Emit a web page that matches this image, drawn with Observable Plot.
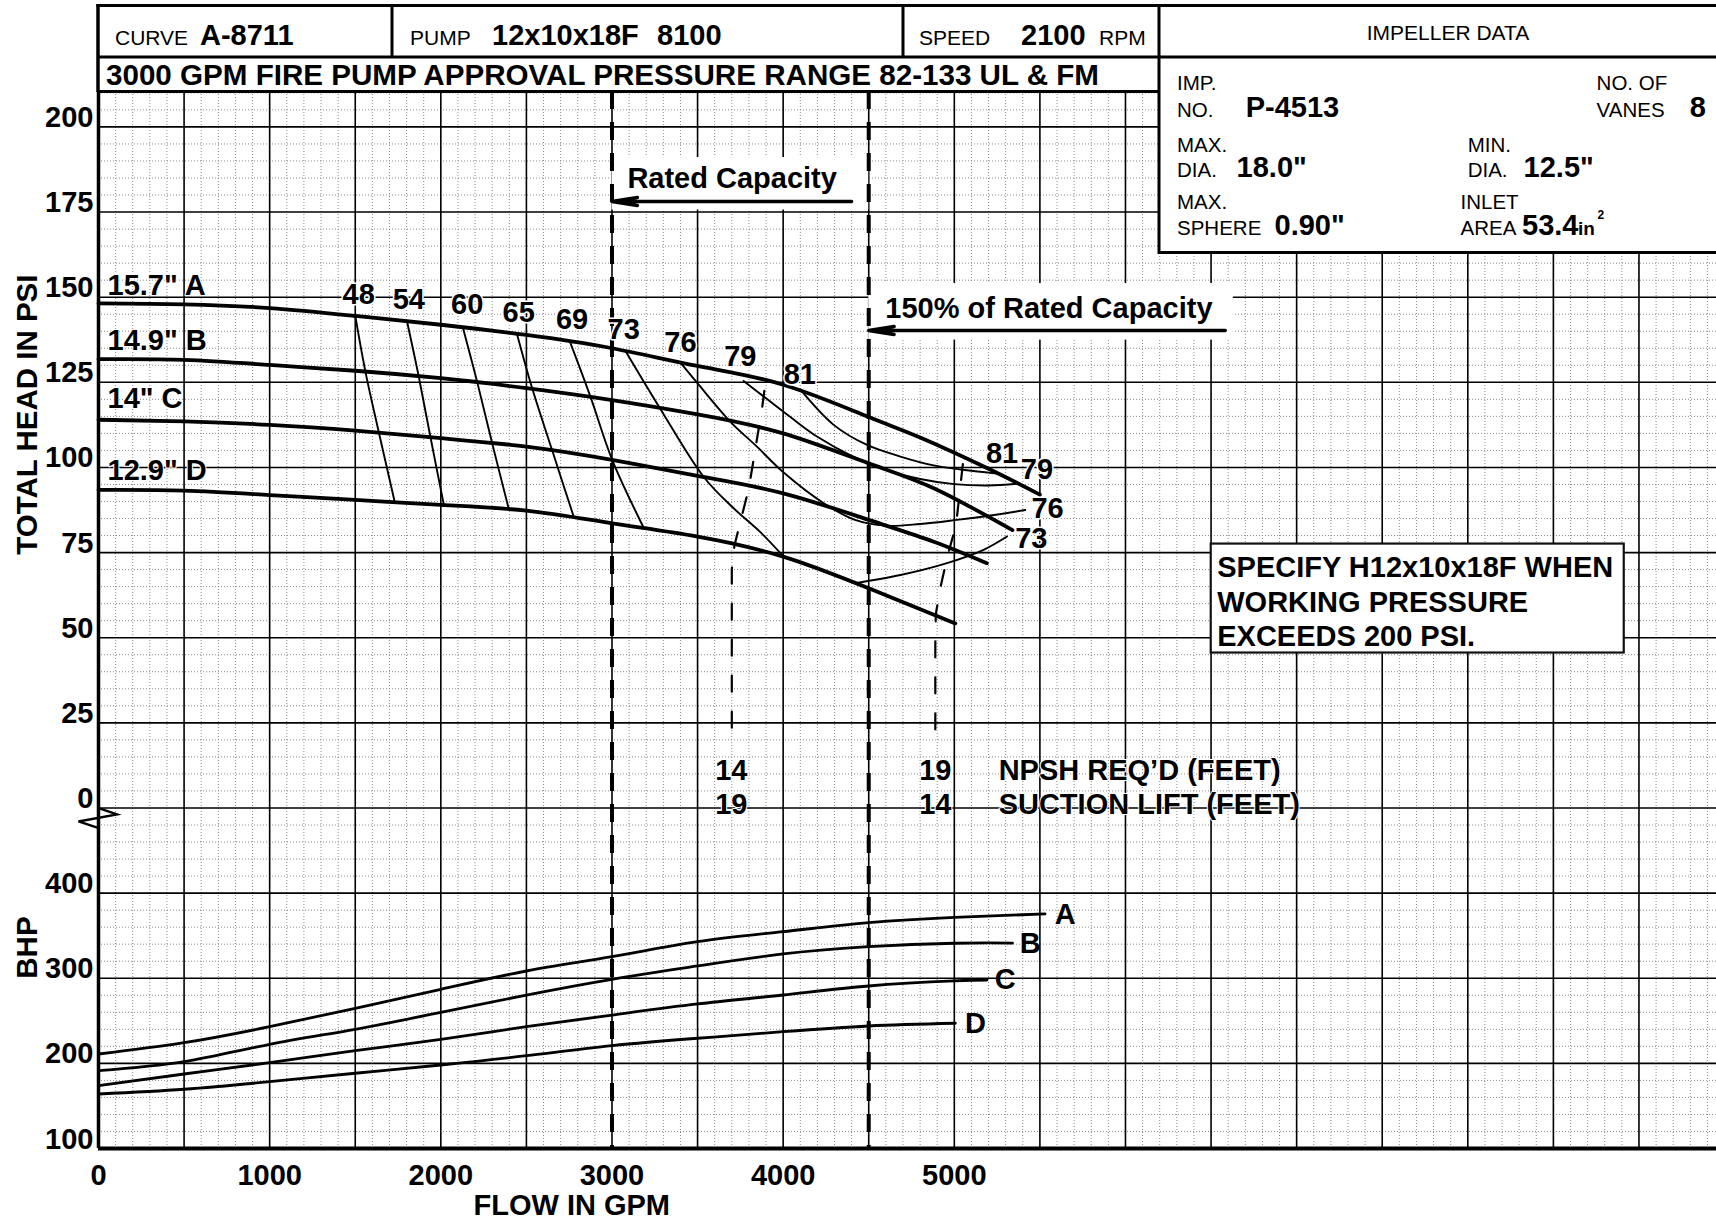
<!DOCTYPE html>
<html><head><meta charset="utf-8">
<script src="https://cdn.jsdelivr.net/npm/d3@7"></script>
<script src="https://cdn.jsdelivr.net/npm/@observablehq/plot@0.6"></script>
<style>
html,body{margin:0;padding:0;background:#fff;}
#wrap{position:relative;width:1716px;height:1219px;overflow:hidden;font-family:"Liberation Sans",Arial,sans-serif;}
#plot{position:absolute;left:0;top:91px;}
#head{position:absolute;left:0;top:0;}
</style></head>
<body><div id="wrap"><div id="plot"></div><svg id="head" width="1716" height="260"></svg></div>
<script>
// ---------- data (flow in GPM, head in PSI, power in BHP) ----------
const flowTicks = [0, 1000, 2000, 3000, 4000, 5000];
const headTicks = [0, 25, 50, 75, 100, 125, 150, 175, 200];
const bhpTicks = [100, 200, 300, 400];
const ratedFlows = [3000, 4500];

const headA = [[0,148.2],[500,147.9],[1000,146.8],[1500,144.5],[2000,141.9],[2500,138.9],[3000,135.0],[3500,129.8],[4000,124.3],[4500,114.8],[4800,108.8],[5200,99.6],[5500,92.0]];
const headB = [[0,131.8],[500,131.6],[1000,130.1],[1500,128.4],[2000,126.2],[2500,123.3],[3000,119.8],[3500,115.6],[4000,110.0],[4500,101.2],[4880,93.9],[5340,81.6]];
const headC = [[0,114.0],[500,113.5],[1000,112.5],[1500,110.8],[2000,108.6],[2500,106.1],[3000,102.2],[3500,97.5],[4000,92.4],[4500,84.6],[4880,78.2],[5190,71.9]];
const headD = [[0,93.4],[500,93.2],[1000,91.9],[1500,90.5],[2000,89.0],[2500,87.3],[3000,83.6],[3500,79.7],[4000,73.8],[4500,64.5],[5006,54.2]];

const eff48 = [[1501,144.3],[1560,128.0],[1637,110.5],[1729,90.2]];
const eff54 = [[1803,142.8],[1871,126.7],[1939,109.0],[2017,89.2]];
const eff60 = [[2130,140.9],[2212,125.2],[2300,107.1],[2397,87.8]];
const eff65 = [[2446,139.0],[2533,123.4],[2650,105.1],[2776,85.6]];
const eff69 = [[2757,136.6],[2874,120.8],[3000,102.4],[3185,82.3]];
const eff73 = [[3078,134.3],[3273,118.0],[3536,97.2],[3711,88.0],[3867,81.0],[4003,73.8]];
const eff73b = [[4420,66.0],[4685,68.4],[4957,71.9],[5171,75.8],[5308,79.7]];
const eff76 = [[3400,130.8],[3497,124.9],[3692,113.4],[3847,106.1],[4003,98.5],[4237,89.5],[4420,84.6],[4600,82.9],[4800,83.4],[5015,84.6],[5200,85.8],[5415,87.5]];
const eff79 = [[3769,125.4],[3900,120.3],[4050,114.5],[4200,109.0],[4400,103.4],[4600,99.3],[4800,96.6],[5000,95.1],[5200,94.7],[5366,95.2]];
const eff81 = [[4100,122.9],[4295,112.5],[4490,106.6],[4685,103.2],[4879,100.6],[5036,99.4],[5249,98.2]];

const npsh14 = [[3890,122.5],[3876,117],[3838,105.6],[3800,94],[3750,84],[3715,77],[3700,70],[3700,21.4]];
const npsh19 = [[5050,101],[5030,92],[5010,83],[4960,74],[4920,65],[4892,57],[4889,50],[4889,19]];

const bhpA = [[0,211],[500,224.3],[1000,243.1],[1500,264.7],[2000,287.0],[2500,308.5],[3000,325.3],[3500,342.9],[4000,354.7],[4500,365.3],[5000,371.6],[5530,375.5]];
const bhpB = [[0,191.4],[500,202.0],[1000,222.4],[1500,240.0],[2000,260.0],[2500,280.3],[3000,298.8],[3500,314.4],[4000,328.5],[4500,337.1],[5000,341.1],[5340,341.3]];
const bhpC = [[0,173.8],[500,187.5],[1000,200.8],[1500,214.9],[2000,228.3],[2500,243.1],[3000,256.8],[3500,269.8],[4000,280.3],[4500,290.9],[5000,296.8],[5190,297.9]];
const bhpD = [[0,164.0],[500,169.6],[1000,178.5],[1500,188.4],[2000,198.1],[2500,209.0],[3000,220.8],[3500,229.5],[4000,237.2],[4500,243.9],[5006,247.1]];

const effLabels = [["48",1520,150.7],["54",1813,149.4],["60",2154,147.7],["65",2455,145.5],["69",2767,143.3],["73",3068,140.4],["76",3400,136.7],["79",3750,132.4],["81",4097,127.2],["81",5279,104.0],["79",5483,99.3],["76",5545,87.8],["73",5450,79.0]];
const diamLabels = [['15.7" A',150.7],['14.9" B',134.5],['14" C',117.6],['12.9" D',96.3]];
const bhpLabels = [["A",5648,374.3],["B",5444,341],["C",5298,298],["D",5123,246.3]];
const npshLabels = [["14",3697,11.0],["19",3697,0.9],["19",4889,11.0],["14",4889,0.9]];
const npshCaptions = [["NPSH REQ’D (FEET)",5259,11.0],["SUCTION LIFT (FEET)",5259,0.9]];
const noteLines = ["SPECIFY H12x10x18F WHEN","WORKING PRESSURE","EXCEEDS 200 PSI."];
const noteBaselines = [67.8, 57.6, 47.6];

// ---------- derived tables ----------
const toY = b => (b - 500) / 4;           // BHP drawn one major division under 0 psi
const rows = (name, pts, f = v => v) => pts.map(([x, y]) => ({name, x, y: f(y)}));
const headRows = [...rows("A", headA), ...rows("B", headB), ...rows("C", headC), ...rows("D", headD)];
const effRows = [...rows("48", eff48), ...rows("54", eff54), ...rows("60", eff60), ...rows("65", eff65), ...rows("69", eff69),
  ...rows("73", eff73), ...rows("73b", eff73b), ...rows("76", eff76), ...rows("79", eff79), ...rows("81", eff81)];
const npshRows = [...rows("l", npsh14), ...rows("r", npsh19)];
const bhpRows = [...rows("A", bhpA, toY), ...rows("B", bhpB, toY), ...rows("C", bhpC, toY), ...rows("D", bhpD, toY)];

const minorX = d3.range(0, 9500, 100).filter(v => v % 500);
const majorX = d3.range(0, 9500, 500);
const minorY = d3.range(-100, 211, 5).filter(v => v % 25);
const majorY = d3.range(-100, 201, 25);

const boxes = [
  {x1: 3000, x2: 4500, y1: 175.6, y2: 191, outline: false},
  {x1: 4500, x2: 6630, y1: 137.4, y2: 154, outline: false},
  {x1: 6501, x2: 8914, y1: 45.5, y2: 77.5, outline: true}
];
const arrows = [{x1: 4400, x2: 3000, y: 178.1}, {x1: 6583, x2: 4500, y: 140.2}];
const annot = [{t: "Rated Capacity", x: 3090, y: 182.1}, {t: "150% of Rated Capacity", x: 4597, y: 143.8}];

const F = '"Liberation Sans", Arial, sans-serif';
const B = {fontSize: 29, fontWeight: "bold", fontFamily: F, fill: "black"};
const halo = w => ({stroke: "white", strokeWidth: w, fill: "black"});

const plot = Plot.plot({
  width: 1716, height: 1128,
  marginLeft: 98, marginRight: 0, marginTop: 0, marginBottom: 71,
  x: {domain: [0, 9453]},
  y: {domain: [-100, 210.4]},
  style: {fontFamily: F, background: "white", overflow: "visible"},
  marks: [
    Plot.ruleX(minorX, {stroke: "#8a8a8a", strokeWidth: 1, strokeDasharray: "1,2"}),
    Plot.ruleY(minorY, {stroke: "#8a8a8a", strokeWidth: 1, strokeDasharray: "1,2"}),
    Plot.ruleX(majorX, {stroke: "#000", strokeWidth: 1.6}),
    Plot.ruleY(majorY, {stroke: "#000", strokeWidth: 1.6}),
    Plot.rect(boxes, {x1: "x1", x2: "x2", y1: "y1", y2: "y2", fill: "white",
      stroke: d => d.outline ? "#111" : "none", strokeWidth: 2.2}),
    Plot.ruleX(ratedFlows, {stroke: "#000", strokeWidth: 4, strokeDasharray: "18,13"}),
    Plot.arrow(arrows, {x1: "x1", x2: "x2", y1: "y", y2: "y", strokeWidth: 3.5, headLength: 11, headAngle: 18}),
    Plot.line(headRows, {x: "x", y: "y", z: "name", curve: "natural", strokeWidth: 3.8}),
    Plot.line(effRows, {x: "x", y: "y", z: "name", curve: "catmull-rom", strokeWidth: 1.9}),
    Plot.line(npshRows, {x: "x", y: "y", z: "name", strokeWidth: 2.2, strokeDasharray: "16,20"}),
    Plot.line(bhpRows, {x: "x", y: "y", z: "name", curve: "natural", strokeWidth: 2.8}),
    Plot.text(effLabels, {x: d => d[1], y: d => d[2], text: d => d[0], ...B, ...halo(3)}),
    Plot.text(diamLabels, {frameAnchor: "left", dx: 9, y: d => d[1], text: d => d[0], textAnchor: "start", lineAnchor: "bottom", ...B, ...halo(2)}),
    Plot.text(bhpLabels, {x: d => d[1], y: d => toY(d[2]), text: d => d[0], ...B}),
    Plot.text(npshLabels, {x: d => d[1], y: d => d[2], text: d => d[0], ...B, ...halo(2)}),
    Plot.text(npshCaptions, {x: d => d[1], y: d => d[2], text: d => d[0], textAnchor: "start", ...B, ...halo(2)}),
    Plot.text(annot, {x: "x", y: "y", text: "t", textAnchor: "start", lineAnchor: "bottom", ...B}),
    Plot.text(noteLines, {x: 6536, y: (d, i) => noteBaselines[i], text: d => d, textAnchor: "start", lineAnchor: "bottom", ...B}),
    Plot.text(["TOTAL HEAD IN PSI"], {frameAnchor: "left", dx: -71, y: 115.5, rotate: -90, textAnchor: "middle", lineAnchor: "middle", ...B, fontSize: 29.5}),
    Plot.text(["BHP"], {frameAnchor: "left", dx: -71, y: toY(336), rotate: -90, textAnchor: "middle", lineAnchor: "middle", ...B, fontSize: 29.5}),
    Plot.text(["FLOW IN GPM"], {x: 2765, frameAnchor: "bottom", dy: 66, lineAnchor: "bottom", textAnchor: "middle", ...B}),
    Plot.ruleX([0], {stroke: "#000", strokeWidth: 3.5}),
    Plot.ruleY([-100], {stroke: "#000", strokeWidth: 4}),
    Plot.axisY([...bhpTicks.map(toY), ...headTicks], {tickSize: 0, tickPadding: 5, label: null,
      tickFormat: v => v < 0 ? String(Math.round(v * 4 + 500)) : String(v),
      fontSize: 29, fontWeight: "bold", lineAnchor: "bottom"}),
    Plot.axisX(flowTicks, {tickSize: 0, tickPadding: 16, label: null, tickFormat: v => String(v), fontSize: 29, fontWeight: "bold"})
  ]
});
document.getElementById("plot").appendChild(plot);

// axis break symbol at 0 psi
{
  const x0 = plot.scale("x").apply(0), y0 = plot.scale("y").apply(0);
  d3.select(plot).append("path")
    .attr("d", `M${x0},${y0 + 0.5}L${x0 + 19},${y0 + 7}L${x0 - 19.5},${y0 + 14}L${x0},${y0 + 20.5}`)
    .attr("fill", "none").attr("stroke", "#000").attr("stroke-width", 2.4);
}

// ---------- header & impeller data block ----------
const hs = d3.select("#head").style("font-family", F);
hs.append("rect").attr("x", 1159).attr("y", 57).attr("width", 600).attr("height", 196).attr("fill", "white");
const ln = (x1, y1, x2, y2, w) => hs.append("line").attr("x1", x1).attr("y1", y1).attr("x2", x2).attr("y2", y2)
  .attr("stroke", "#000").attr("stroke-width", w);
ln(96.3, 5.5, 1716, 5.5, 3.2);
ln(98, 4, 98, 92, 3.5);
ln(98, 57, 1716, 57, 3);
ln(98, 91.5, 1159, 91.5, 3);
ln(392, 5.5, 392, 57, 3);
ln(903, 5.5, 903, 57, 3);
ln(1159, 5.5, 1159, 254, 3);
ln(1159, 252.5, 1716, 252.5, 3);
const tx = (s, x, y, size, bold, anchor = "start") => hs.append("text").attr("x", x).attr("y", y)
  .attr("font-size", size).attr("font-weight", bold ? "bold" : "normal").attr("text-anchor", anchor).text(s);
tx("CURVE", 115, 45, 21); tx("A-8711", 200, 45, 29, true);
tx("PUMP", 410, 45, 21); tx("12x10x18F", 492, 45, 29, true); tx("8100", 657, 45, 29, true);
tx("SPEED", 919, 45, 21); tx("2100", 1021, 45, 29, true); tx("RPM", 1099, 45, 21);
tx("IMPELLER DATA", 1448, 40, 21, false, "middle");
tx("3000 GPM FIRE PUMP APPROVAL PRESSURE RANGE 82-133 UL & FM", 106, 85, 29, true)
  .attr("textLength", 993).attr("lengthAdjust", "spacingAndGlyphs");
tx("IMP.", 1177, 90, 20.5); tx("NO.", 1177, 117, 20.5); tx("P-4513", 1245.7, 117, 29, true);
tx("NO. OF", 1596.6, 90, 20.5); tx("VANES", 1596.6, 117, 20.5); tx("8", 1689.7, 117, 29, true);
tx("MAX.", 1177, 151.5, 20.5); tx("DIA.", 1177, 177, 20.5); tx('18.0"', 1236.6, 177, 29, true);
tx("MIN.", 1467.7, 151.5, 20.5); tx("DIA.", 1467.7, 177, 20.5); tx('12.5"', 1523.6, 177, 29, true);
tx("MAX.", 1177, 208.5, 20.5); tx("SPHERE", 1177, 235, 20.5); tx('0.90"', 1274.5, 235, 29, true);
tx("INLET", 1460.5, 208.5, 20.5); tx("AREA", 1460.5, 235, 20.5); tx("53.4", 1522, 235, 29, true);
tx("in", 1578, 235, 19, true); tx("2", 1597.6, 219, 12, true);
</script></body></html>
